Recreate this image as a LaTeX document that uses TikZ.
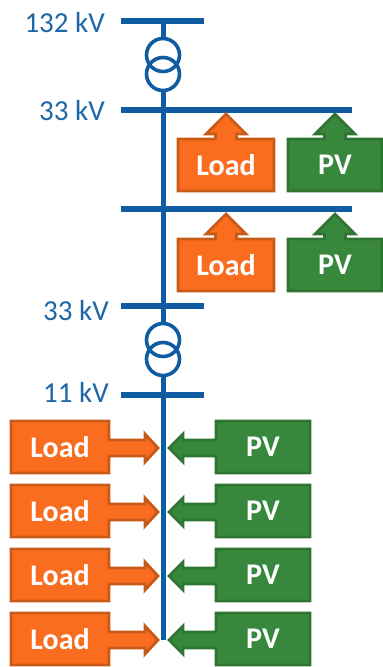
\documentclass[tikz,border=0pt]{standalone}
\usepackage{fontspec}
\setmainfont{Carlito}
\definecolor{busblue}{HTML}{0F5CA3}
\definecolor{lblblue}{HTML}{1E66A6}
\definecolor{ofill}{HTML}{FA6C1E}
\definecolor{oline}{HTML}{C65A16}
\definecolor{gfill}{HTML}{37873C}
\definecolor{gline}{HTML}{2F7433}
\tikzset{
  bus/.style={draw=busblue,line width=5.2pt,line cap=butt},
  feeder/.style={draw=busblue,line width=5pt},
  winding/.style={draw=busblue,line width=3.6pt,circle,minimum size=33pt,inner sep=0pt},
  volt/.style={text=lblblue,font=\fontsize{29}{29}\selectfont,anchor=east,inner sep=0pt},
  boxtext/.style={text=white,font=\fontsize{30}{30}\selectfont\bfseries,inner sep=0pt},
  loadshape/.style={fill=ofill,draw=oline,line width=2.8pt,line join=miter},
  pvshape/.style={fill=gfill,draw=gline,line width=2.8pt,line join=miter},
}
% upward box: #1 style, #2 left, #3 right, #4 top of box, #5 name, #6 text
\newcommand{\upbox}[6]{%
  \pgfmathsetmacro{\cx}{(#2+#3)/2}%
  \path[#1] (#2,#4) -- ({\cx-10.5},#4) -- ({\cx-10.5},#4-5) -- ({\cx-20},#4-5) -- (\cx,#4-25) --
    ({\cx+20},#4-5) -- ({\cx+10.5},#4-5) -- ({\cx+10.5},#4) -- (#3,#4) -- (#3,#4+52) -- (#2,#4+52) -- cycle;
  \node[boxtext] (#5) at (\cx,#4+26) {#6};}
% rightward box (load): #1 box top, #2 name
\newcommand{\loadrow}[2]{%
  \path[loadshape] (11,#1) -- (109,#1) -- (109,#1+19) -- (145,#1+19) -- (145,#1+13) -- (158,#1+27) --
    (145,#1+41) -- (145,#1+35) -- (109,#1+35) -- (109,#1+52) -- (11,#1+52) -- cycle;
  \node[boxtext] (#2) at (60,#1+26) {Load};}
% leftward box (pv): #1 box top, #2 name
\newcommand{\pvrow}[2]{%
  \path[pvshape] (310,#1) -- (216,#1) -- (216,#1+19) -- (183,#1+19) -- (183,#1+13) -- (169,#1+27) --
    (183,#1+41) -- (183,#1+35) -- (216,#1+35) -- (216,#1+52) -- (310,#1+52) -- cycle;
  \node[boxtext] (#2) at (263,#1+26) {PV};}
\begin{document}
\begin{tikzpicture}[x=1pt,y=-1pt]
\useasboundingbox (0,0) rectangle (383,667);
% named points
\coordinate (b1l) at (121,21);  \coordinate (b1r) at (204,21);  \coordinate (b1c) at (163,21);
\coordinate (b2l) at (121,110); \coordinate (b2r) at (352,110); \coordinate (b2c) at (163,110);
\coordinate (b3l) at (121,209); \coordinate (b3r) at (352,209);
\coordinate (b4l) at (121,306); \coordinate (b4r) at (204,306); \coordinate (b4c) at (163,306);
\coordinate (b5l) at (121,395); \coordinate (b5r) at (204,395); \coordinate (b5c) at (163,395);
\coordinate (end) at (163,640);
\node[winding] (t1a) at (163,55) {};
\node[winding] (t1b) at (163,74) {};
\node[winding] (t2a) at (163,340) {};
\node[winding] (t2b) at (163,359) {};
% feeders
\draw[feeder] (b1c) -- (t1a.north);
\draw[feeder] (t1b.south) -- (b2c);
\draw[feeder] (b2c) -- (b4c) -- (t2a.north);
\draw[feeder] (t2b.south) -- (b5c) -- (end);
% bars
\draw[bus] (b1l) -- (b1r);
\draw[bus] (b2l) -- (b2r);
\draw[bus] (b3l) -- (b3r);
\draw[bus] (b4l) -- (b4r);
\draw[bus] (b5l) -- (b5r);
% labels
\node[volt] (v1) at (105,23) {132 kV};
\node[volt] (v2) at (105,111) {33 kV};
\node[volt] (v3) at (109,311) {33 kV};
\node[volt] (v4) at (109,392) {11 kV};
% upper boxes
\upbox{loadshape}{178}{274}{139}{l1}{Load}
\upbox{pvshape}{288}{382}{139}{p1}{PV}
\upbox{loadshape}{178}{274}{239}{l2}{Load}
\upbox{pvshape}{288}{382}{239}{p2}{PV}
% lower rows
\loadrow{421}{l3} \pvrow{421}{p3}
\loadrow{485}{l4} \pvrow{485}{p4}
\loadrow{549}{l5} \pvrow{549}{p5}
\loadrow{613}{l6} \pvrow{613}{p6}
\end{tikzpicture}
\end{document}
